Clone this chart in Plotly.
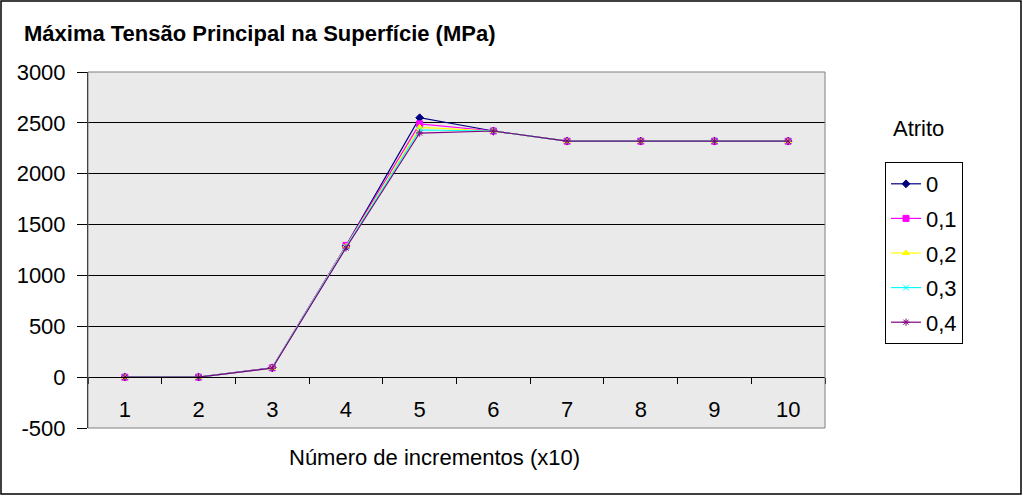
import plotly.graph_objects as go

categories = ["1", "2", "3", "4", "5", "6", "7", "8", "9", "10"]
series_names = ["0", "0,1", "0,2", "0,3", "0,4"]
s0 = [0, 0, 92, 1290, 2550, 2420, 2320, 2320, 2320, 2320]
s1 = [0, 0, 92, 1295, 2490, 2420, 2320, 2320, 2320, 2320]
s2 = [0, 0, 90, 1285, 2455, 2420, 2320, 2320, 2320, 2320]
s3 = [0, 0, 90, 1280, 2430, 2420, 2320, 2320, 2320, 2320]
s4 = [0, 0, 88, 1270, 2400, 2420, 2320, 2320, 2320, 2320]
y_ticks = [-500, 0, 500, 1000, 1500, 2000, 2500, 3000]
y_tick_labels = ["-500", "0", "500", "1000", "1500", "2000", "2500", "3000"]

colors = ["#000080", "#FF00FF", "#FFFF00", "#00FFFF", "#800080"]
symbols = ["diamond", "square", "triangle-up", "x-thin", "asterisk"]

fig = go.Figure()
for i, (name, ys) in enumerate(zip(series_names, [s0, s1, s2, s3, s4])):
    fig.add_trace(go.Scatter(
        x=categories, y=ys, name=name, mode="lines+markers",
        line=dict(color=colors[i], width=1.2),
        marker=dict(symbol=symbols[i], size=6, color=colors[i],
                    line=dict(color=colors[i], width=1)),
        legendgroup=name,
    ))

W, H = 1023, 496
L, T = 88, 72
R = W - 825
B = H - 428
pw, ph = W - L - R, H - T - B

def px_x(p):
    return (p - L) / pw

def px_y(p):
    return (H - B - p) / ph

zero_pos = 500 / 3500

fig.update_layout(
    width=W, height=H,
    margin=dict(l=L, r=R, t=T, b=B),
    paper_bgcolor="white",
    plot_bgcolor="#EAEAEA",
    font=dict(family="Liberation Sans, Arial, sans-serif", size=22, color="black"),
    showlegend=True,
    legend=dict(
        x=px_x(885), y=px_y(162), xanchor="left", yanchor="top",
        bordercolor="black", borderwidth=1, bgcolor="white",
        font=dict(size=22), tracegroupgap=3, itemwidth=30,
    ),
    xaxis=dict(
        type="category", range=[-0.5, 9.5],
        anchor="free", position=zero_pos,
        showgrid=False, showline=True, linecolor="black", linewidth=1,
        ticks="outside", tickson="boundaries", ticklen=6, tickcolor="black",
        ticklabelstandoff=12,
        tickfont=dict(size=22),
    ),
    yaxis=dict(
        range=[-500, 3000], tickvals=y_ticks, ticktext=y_tick_labels,
        showgrid=True, gridcolor="#000000", gridwidth=1,
        zeroline=False, showline=True, linecolor="black",
        ticks="outside", ticklen=10, tickcolor="black",
        ticklabelstandoff=7,
        tickfont=dict(size=22),
    ),
    shapes=[
        dict(type="rect", xref="paper", yref="paper",
             x0=px_x(1), x1=px_x(1021), y0=px_y(494), y1=px_y(1),
             line=dict(color="black", width=1.5), fillcolor="rgba(0,0,0,0)"),
        dict(type="rect", xref="paper", yref="paper",
             x0=0, x1=1, y0=0, y1=1,
             line=dict(color="#808080", width=1), fillcolor="rgba(0,0,0,0)"),
    ],
    annotations=[
        dict(text="<b>Máxima Tensão Principal na Superfície (MPa)</b>",
             xref="paper", yref="paper", x=px_x(22), y=px_y(33),
             xanchor="left", yanchor="middle", showarrow=False,
             font=dict(size=22)),
        dict(text="Número de incrementos (x10)",
             xref="paper", yref="paper", x=px_x(434), y=px_y(457),
             xanchor="center", yanchor="middle", showarrow=False,
             font=dict(size=22)),
        dict(text="Atrito",
             xref="paper", yref="paper", x=px_x(918), y=px_y(128),
             xanchor="center", yanchor="middle", showarrow=False,
             font=dict(size=22)),
    ],
)

fig.write_html("out.html", config={"displayModeBar": False},
               post_script="document.body.style.margin='0px';document.body.style.overflow='hidden';")
